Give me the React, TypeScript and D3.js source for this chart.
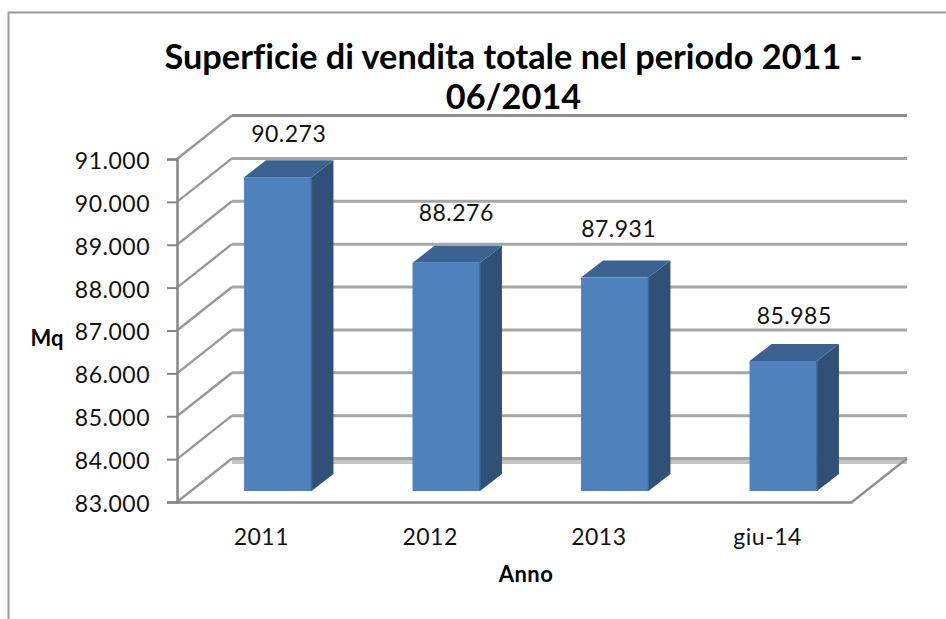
import * as d3 from "d3";
import { useEffect, useRef } from "react";

const categories = ["2011", "2012", "2013", "giu-14"];
const values = [90273, 88276, 87931, 85985];
const valueLabels = ["90.273", "88.276", "87.931", "85.985"];
const yTicks = [83000, 84000, 85000, 86000, 87000, 88000, 89000, 90000, 91000];
const titleLines = ["Superficie di vendita totale nel periodo 2011 -", "06/2014"];

const FONT = "Lato, Carlito, 'Open Sans', sans-serif";

const App = () => {
  const ref = useRef<SVGSVGElement>(null);

  useEffect(() => {
    const svg = d3.select(ref.current);
    svg.selectAll("*").remove();

    // front plane of the 3D box
    const left = 177, right = 852;
    const depthX = 55, depthY = -43.5;

    const y = d3.scaleLinear().domain([83000, 91000]).range([502, 159]);
    const x = d3
      .scaleBand()
      .domain(categories)
      .range([left, right - 1])
      .paddingInner(0.6)
      .paddingOuter(0.3);

    // outer chart border, only top and left are visible
    svg.append("path")
      .attr("d", "M946,12.5H8.5V619")
      .attr("fill", "none")
      .attr("stroke", "#9a9a9a")
      .attr("stroke-width", 2);

    // floor band at the back wall
    svg.append("rect")
      .attr("x", left + depthX)
      .attr("y", y(83000) + depthY)
      .attr("width", right - left)
      .attr("height", 5.5)
      .attr("fill", "#c4c4c4");

    // gridlines: back wall + slanted side wall
    const grid = svg.append("g");
    yTicks.forEach((t, i) => {
      const top = i === yTicks.length - 1;
      grid.append("line")
        .attr("x1", left + depthX)
        .attr("x2", right + depthX)
        .attr("y1", y(t) + depthY)
        .attr("y2", y(t) + depthY)
        .attr("stroke", top ? "#8c8c8c" : "#a6a6a6")
        .attr("stroke-width", 3);
      grid.append("line")
        .attr("x1", left)
        .attr("x2", left + depthX)
        .attr("y1", y(t))
        .attr("y2", y(t) + depthY)
        .attr("stroke", "#989898")
        .attr("stroke-width", 2.4);
    });
    // floor right edge
    grid.append("line")
      .attr("x1", right)
      .attr("x2", right + depthX)
      .attr("y1", y(83000))
      .attr("y2", y(83000) + depthY)
      .attr("stroke", "#909090")
      .attr("stroke-width", 2.4);

    // bars, pushed back a bit into the box
    const offX = 16.5, offTop = -13, offBottom = -11;
    const barDX = 22, barDY = -17;
    // the data labels were moved by hand in the original
    const labelDX = [11, 10, 4, 11];
    const labelDY = [-35, -42, -41, -37];
    const bars = svg.append("g");
    values.forEach((v, i) => {
      const bx = (x(categories[i]) as number) + offX;
      const bw = x.bandwidth();
      const by = y(v) + offTop;
      const b0 = y(83000) + offBottom;
      // side
      bars.append("path")
        .attr("d", `M${bx + bw},${by}l${barDX},${barDY}V${b0 + barDY}l${-barDX},${-barDY}Z`)
        .attr("fill", "#305078");
      // top
      bars.append("path")
        .attr("d", `M${bx},${by}l${barDX},${barDY}h${bw}l${-barDX},${-barDY}Z`)
        .attr("fill", "#3c6291");
      // front
      bars.append("rect")
        .attr("x", bx)
        .attr("y", by)
        .attr("width", bw)
        .attr("height", b0 - by)
        .attr("fill", "#4f81bd");
      bars.append("line")
        .attr("x1", bx + bw)
        .attr("x2", bx + bw)
        .attr("y1", by)
        .attr("y2", b0)
        .attr("stroke", "#3f6797")
        .attr("stroke-width", 1.5);

      // value label
      svg.append("text")
        .attr("x", bx + bw / 2 + labelDX[i])
        .attr("y", by + labelDY[i])
        .attr("text-anchor", "middle")
        .attr("font-family", FONT)
        .attr("font-size", 23)
        .attr("letter-spacing", 0.5)
        .attr("fill", "#111")
        .text(valueLabels[i]);
    });

    // Y axis
    const axisY = svg.append("g").attr("transform", `translate(${left},0)`);
    axisY.call(
      d3.axisLeft(y)
        .tickValues(yTicks)
        .tickSize(10)
        .tickPadding(17)
        .tickFormat((d) => d3.format(",")(d as number).replace(",", "."))
    );
    axisY.select(".domain").attr("stroke", "#868686").attr("stroke-width", 2.5);
    axisY.selectAll(".tick line").attr("stroke", "#868686").attr("stroke-width", 2);
    axisY.selectAll("text")
      .attr("font-family", FONT)
      .attr("font-size", 23)
      .attr("letter-spacing", 0.5)
      .attr("transform", "translate(0,2)")
      .attr("fill", "#111");

    // X axis
    const axisX = svg.append("g").attr("transform", `translate(0,${y(83000)})`);
    axisX.call(
      d3.axisBottom(
        d3.scaleBand().domain(categories).range([left, right])
      ).tickSize(0).tickPadding(27)
    );
    axisX.select(".domain").attr("stroke", "#868686").attr("stroke-width", 2.5);
    axisX.selectAll("text")
      .attr("font-family", FONT)
      .attr("font-size", 23)
      .attr("letter-spacing", 0.5)
      .attr("fill", "#111");

    // titles
    titleLines.forEach((line, i) => {
      svg.append("text")
        .attr("x", 513.5)
        .attr("y", 69 + i * 40)
        .attr("text-anchor", "middle")
        .attr("font-family", FONT)
        .attr("font-size", 34.3)
        .attr("font-weight", 700)
        .attr("fill", "#000")
        .style("font-variant-ligatures", "none")
        .text(line);
    });
    svg.append("text")
      .attr("x", 47)
      .attr("y", 346)
      .attr("text-anchor", "middle")
      .attr("font-family", FONT)
      .attr("font-size", 22)
      .attr("font-weight", 700)
      .text("Mq");
    svg.append("text")
      .attr("x", 526)
      .attr("y", 582)
      .attr("text-anchor", "middle")
      .attr("font-family", FONT)
      .attr("font-size", 22)
      .attr("font-weight", 700)
      .attr("letter-spacing", 0.5)
      .text("Anno");
  }, []);

  return (
    <svg
      ref={ref}
      width={946}
      height={619}
      style={{ position: "absolute", left: 0, top: 0, background: "#fff" }}
    />
  );
};

export default App;
